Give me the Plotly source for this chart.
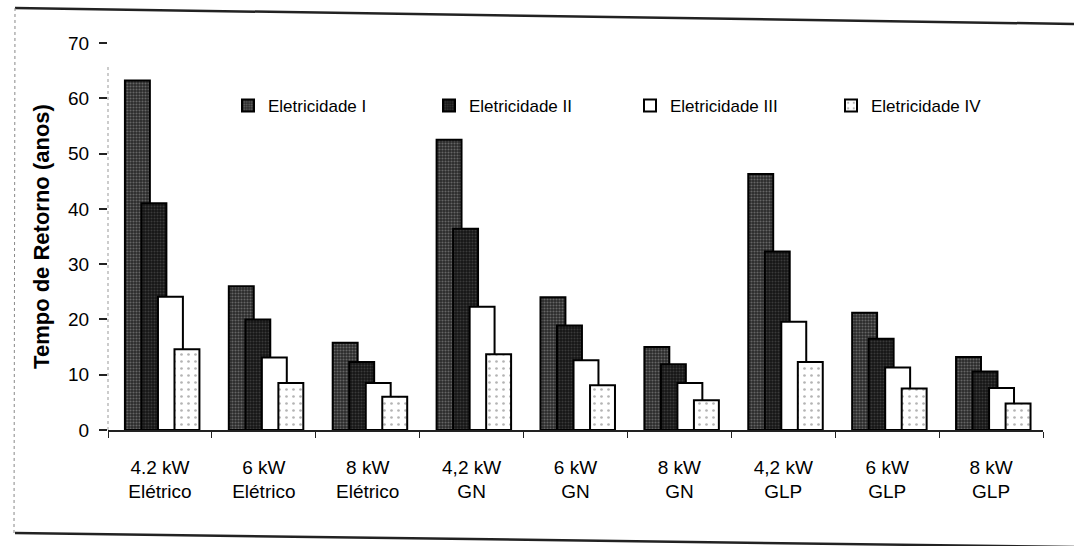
import plotly.graph_objects as go

# Payback time (years) for each heater size / fuel
categories = [
    "4.2 kW<br>Elétrico", "6 kW<br>Elétrico", "8 kW<br>Elétrico",
    "4,2 kW<br>GN", "6 kW<br>GN", "8 kW<br>GN",
    "4,2 kW<br>GLP", "6 kW<br>GLP", "8 kW<br>GLP",
]
series_names = ["Eletricidade I", "Eletricidade II", "Eletricidade III", "Eletricidade IV"]
eletricidade_1 = [63.2, 26.0, 15.8, 52.5, 24.0, 15.0, 46.3, 21.2, 13.2]
eletricidade_2 = [41.0, 20.0, 12.3, 36.4, 18.9, 11.9, 32.3, 16.5, 10.6]
eletricidade_3 = [24.1, 13.1, 8.5, 22.3, 12.6, 8.5, 19.6, 11.3, 7.6]
eletricidade_4 = [14.6, 8.5, 6.0, 13.7, 8.1, 5.4, 12.3, 7.5, 4.8]
y_ticks = [0, 10, 20, 30, 40, 50, 60, 70]

W, H = 1074, 546
ML, MR, MT, MB = 108, 31, 43, 116
PW, PH = W - ML - MR, H - MT - MB


def px(x):
    return (x - ML) / PW


def py(y):
    return (H - MB - y) / PH


FONT = "Arial, Liberation Sans, sans-serif"

# overlapping bars inside each group
bar_width = 0.24
offsets = [-0.337, -0.178, -0.019, 0.14]
patterns = [
    dict(shape=".", bgcolor="#2a2a2a", fgcolor="#a0a0a0", size=3, solidity=0.4),
    dict(shape=".", bgcolor="#161616", fgcolor="#5e5e5e", size=3, solidity=0.35),
    dict(shape="", bgcolor="white", fgcolor="white"),
    dict(shape=".", bgcolor="white", fgcolor="#6a6a6a", size=7, solidity=0.12),
]
fills = ["#2a2a2a", "#161616", "white", "white"]

fig = go.Figure()
for name, vals, off, pat, fill in zip(
    series_names,
    [eletricidade_1, eletricidade_2, eletricidade_3, eletricidade_4],
    offsets, patterns, fills,
):
    fig.add_trace(go.Bar(
        x=categories, y=vals, name=name,
        offset=off, width=bar_width,
        marker=dict(color=fill, pattern=pat, line=dict(color="black", width=2)),
    ))

shapes = [
    # outer frame of the figure
    dict(type="line", xref="paper", yref="paper",
         x0=px(15), y0=py(8), x1=px(1074), y1=py(24),
         line=dict(color="#222", width=2.5)),
    dict(type="line", xref="paper", yref="paper",
         x0=px(15), y0=py(533), x1=px(1074), y1=py(547),
         line=dict(color="#222", width=2.5)),
    dict(type="line", xref="paper", yref="paper",
         x0=px(15), y0=py(8), x1=px(14), y1=py(533),
         line=dict(color="#888", width=1, dash="dot")),
    # faint dotted value axis
    dict(type="line", xref="paper", yref="y",
         x0=0, y0=0, x1=0, y1=66,
         line=dict(color="#999", width=1, dash="dot")),
]

fig.update_layout(
    width=W, height=H,
    margin=dict(l=ML, r=MR, t=MT, b=MB),
    paper_bgcolor="white", plot_bgcolor="white",
    barmode="overlay",
    font=dict(family=FONT, color="black"),
    showlegend=True,
    legend=dict(
        orientation="h", x=px(228), y=py(88), xanchor="left", yanchor="top",
        entrywidth=156, entrywidthmode="pixels",
        font=dict(size=17, family=FONT), bgcolor="rgba(0,0,0,0)",
        traceorder="normal",
    ),
    shapes=shapes,
    xaxis=dict(
        showline=True, linecolor="#222", linewidth=1.5,
        ticks="outside", ticklen=6, tickcolor="#222", tickwidth=1,
        tickson="boundaries", showgrid=False,
        tickfont=dict(size=19, family=FONT),
        ticklabelstandoff=19,
    ),
    yaxis=dict(
        range=[0, 70], tickvals=y_ticks, showgrid=False, zeroline=False,
        showline=False, ticks="outside", ticklen=8, tickcolor="#222",
        tickwidth=1.5, tickfont=dict(size=19, family=FONT),
        ticklabelstandoff=6,
        title=dict(text="<b>Tempo de Retorno (anos)</b>",
                   font=dict(size=22, family=FONT), standoff=12),
    ),
)

fig.write_html("out.html")
